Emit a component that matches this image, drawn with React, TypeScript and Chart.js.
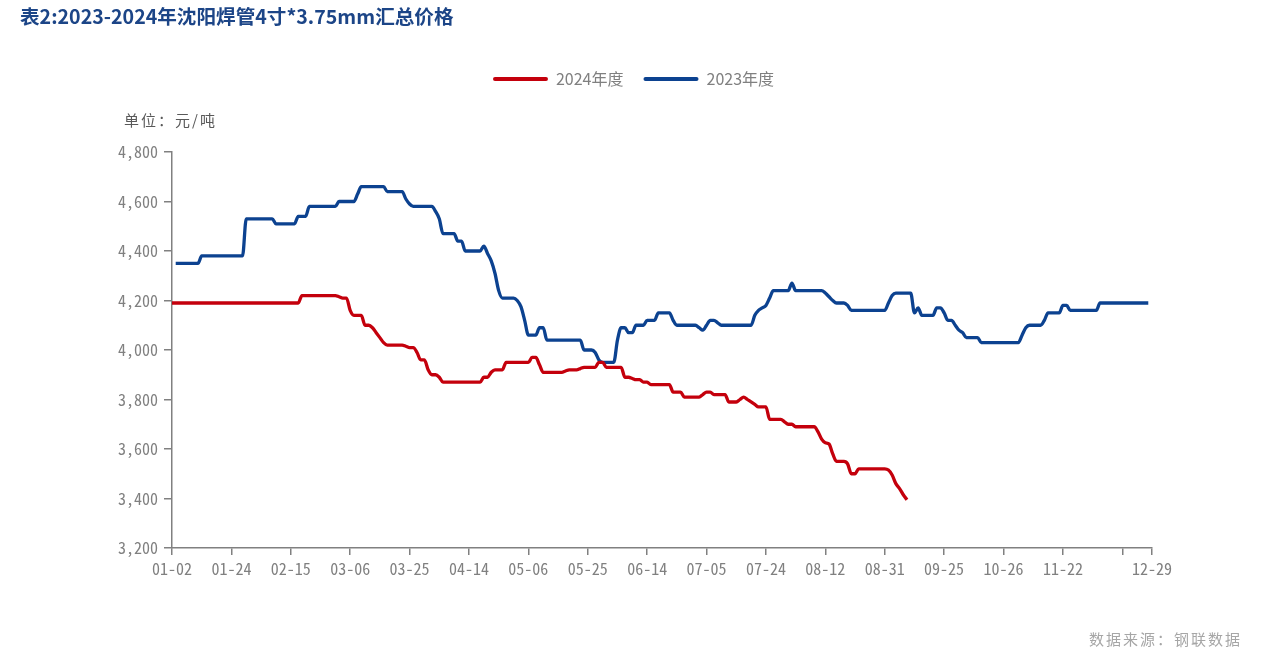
import React, { useEffect, useRef } from 'react';
import { Chart, registerables } from 'chart.js';

Chart.register(...registerables);

const W = 1267;
const H = 663;

const titleText = '表2:2023-2024年沈阳焊管4寸*3.75mm汇总价格';
const unitText = '单位：元/吨';
const sourceText = '数据来源：钢联数据';
const seriesNames = ['2024年度', '2023年度'];
const seriesColors = ['#c4000c', '#0c4290'];

// x positions (trading-day index) of the axis ticks and their labels
const tickPositions = [0, 16, 32, 48, 64, 80, 96, 112, 128, 144, 160, 176, 192, 208, 224, 240, 256, 264];
const tickLabels = ['01-02', '01-24', '02-15', '03-06', '03-25', '04-14', '05-06', '05-25', '06-14', '07-05', '07-24', '08-12', '08-31', '09-25', '10-26', '11-22', '', '12-29'];
const xMax = 264;

const yMin = 3200;
const yMax = 4800;
const yStep = 200;

// 2024 price (元/吨), one value per trading day
const series2024 = [
  4190, 4190, 4190, 4190, 4190, 4190, 4190, 4190, 4190, 4190,
  4190, 4190, 4190, 4190, 4190, 4190, 4190, 4190, 4190, 4190,
  4190, 4190, 4190, 4190, 4190, 4190, 4190, 4190, 4190, 4190,
  4190, 4190, 4190, 4190, 4190, 4220, 4220, 4220, 4220, 4220,
  4220, 4220, 4220, 4220, 4220, 4215, 4210, 4210, 4160, 4140,
  4140, 4140, 4100, 4100, 4090, 4070, 4050, 4030, 4020, 4020,
  4020, 4020, 4020, 4015, 4010, 4010, 3990, 3960, 3960, 3920,
  3900, 3900, 3890, 3870, 3870, 3870, 3870, 3870, 3870, 3870,
  3870, 3870, 3870, 3870, 3890, 3890, 3910, 3920, 3920, 3920,
  3950, 3950, 3950, 3950, 3950, 3950, 3950, 3970, 3970, 3940,
  3910, 3910, 3910, 3910, 3910, 3910, 3915, 3920, 3920, 3920,
  3925, 3930, 3930, 3930, 3930, 3950, 3950, 3930, 3930, 3930,
  3930, 3930, 3890, 3890, 3885, 3880, 3880, 3870, 3870, 3860,
  3860, 3860, 3860, 3860, 3860, 3830, 3830, 3830, 3810, 3810,
  3810, 3810, 3810, 3820, 3830, 3830, 3820, 3820, 3820, 3820,
  3790, 3790, 3790, 3800, 3810, 3800, 3790, 3780, 3770, 3770,
  3770, 3720, 3720, 3720, 3720, 3710, 3700, 3700, 3690, 3690,
  3690, 3690, 3690, 3690, 3670, 3640, 3625, 3620, 3580, 3550,
  3550, 3550, 3540, 3500, 3500, 3520, 3520, 3520, 3520, 3520,
  3520, 3520, 3520, 3515, 3495, 3460, 3440, 3415, 3395,
];

// 2023 price (元/吨), one value per trading day
const series2023 = [
  null, 4350, 4350, 4350, 4350, 4350, 4350, 4350, 4380, 4380,
  4380, 4380, 4380, 4380, 4380, 4380, 4380, 4380, 4380, 4380,
  4530, 4530, 4530, 4530, 4530, 4530, 4530, 4530, 4510, 4510,
  4510, 4510, 4510, 4510, 4540, 4540, 4540, 4580, 4580, 4580,
  4580, 4580, 4580, 4580, 4580, 4600, 4600, 4600, 4600, 4600,
  4630, 4660, 4660, 4660, 4660, 4660, 4660, 4660, 4640, 4640,
  4640, 4640, 4640, 4610, 4590, 4580, 4580, 4580, 4580, 4580,
  4580, 4560, 4530, 4470, 4470, 4470, 4470, 4440, 4440, 4400,
  4400, 4400, 4400, 4400, 4420, 4390, 4360, 4310, 4240, 4210,
  4210, 4210, 4210, 4200, 4175, 4120, 4060, 4060, 4060, 4090,
  4090, 4040, 4040, 4040, 4040, 4040, 4040, 4040, 4040, 4040,
  4040, 4000, 4000, 4000, 3990, 3960, 3950, 3950, 3950, 3950,
  4040, 4090, 4090, 4070, 4070, 4100, 4100, 4100, 4120, 4120,
  4120, 4150, 4150, 4150, 4150, 4120, 4100, 4100, 4100, 4100,
  4100, 4100, 4090, 4080, 4100, 4120, 4120, 4110, 4100, 4100,
  4100, 4100, 4100, 4100, 4100, 4100, 4100, 4140, 4160, 4170,
  4180, 4210, 4240, 4240, 4240, 4240, 4240, 4270, 4240, 4240,
  4240, 4240, 4240, 4240, 4240, 4240, 4230, 4215, 4200, 4190,
  4190, 4190, 4180, 4160, 4160, 4160, 4160, 4160, 4160, 4160,
  4160, 4160, 4160, 4190, 4220, 4230, 4230, 4230, 4230, 4230,
  4150, 4170, 4140, 4140, 4140, 4140, 4170, 4170, 4150, 4120,
  4120, 4100, 4080, 4070, 4050, 4050, 4050, 4050, 4030, 4030,
  4030, 4030, 4030, 4030, 4030, 4030, 4030, 4030, 4030, 4060,
  4090, 4100, 4100, 4100, 4100, 4120, 4150, 4150, 4150, 4150,
  4180, 4180, 4160, 4160, 4160, 4160, 4160, 4160, 4160, 4160,
  4190, 4190, 4190, 4190, 4190, 4190, 4190, 4190, 4190, 4190,
  4190, 4190, 4190, 4190,
];

const CJK = '"Noto Sans CJK SC", "Noto Sans", sans-serif';
const MONO = '"Noto Sans Mono CJK SC", "DejaVu Sans Mono", monospace';
const AXIS_GRAY = '#808080';

const toPoints = (arr: (number | null)[]) => arr.map((y, x) => ({ x, y }));

export default function App() {
  const ref = useRef<HTMLCanvasElement | null>(null);

  useEffect(() => {
    const canvas = ref.current;
    if (!canvas) return;

    const extraText = {
      id: 'extraText',
      afterDraw(chart: any) {
        const ctx = chart.ctx;
        ctx.save();
        try { (ctx as any).letterSpacing = '2px'; } catch (e) { /* ignore */ }
        ctx.textBaseline = 'middle';
        ctx.font = `15px ${CJK}`;
        ctx.fillStyle = '#595959';
        ctx.textAlign = 'left';
        ctx.fillText(unitText, 124, 120);
        ctx.fillStyle = '#a6a6a6';
        ctx.textAlign = 'right';
        ctx.fillText(sourceText, 1242, 639);
        ctx.restore();
      },
    };

    const chart = new Chart(canvas, {
      type: 'line',
      data: {
        datasets: [
          {
            label: seriesNames[0],
            data: toPoints(series2024) as any,
            borderColor: seriesColors[0],
            backgroundColor: seriesColors[0],
            borderWidth: 3.3,
            pointRadius: 0,
            cubicInterpolationMode: 'monotone',
            fill: false,
          },
          {
            label: seriesNames[1],
            data: toPoints(series2023) as any,
            borderColor: seriesColors[1],
            backgroundColor: seriesColors[1],
            borderWidth: 3.3,
            pointRadius: 0,
            cubicInterpolationMode: 'monotone',
            fill: false,
          },
        ],
      },
      options: {
        animation: false,
        responsive: false,
        maintainAspectRatio: false,
        layout: { padding: { left: 20, right: 20, top: 0, bottom: 0 } },
        plugins: {
          title: {
            display: true,
            text: titleText,
            align: 'start',
            color: '#1c4587',
            font: { family: CJK, size: 19.6, weight: 'bold', lineHeight: 1.2 },
            padding: { top: 4, bottom: 23 },
          },
          // empty spacer below the legend, leaving room for the unit label
          subtitle: {
            display: true,
            text: '',
            weight: 500,
            position: 'top',
            font: { size: 10, lineHeight: 1.2 },
            padding: { top: 0, bottom: 43 },
          },
          legend: {
            display: true,
            position: 'top',
            align: 'center',
            labels: {
              boxWidth: 55,
              boxHeight: 4,
              useBorderRadius: true,
              borderRadius: 2,
              padding: 20,
              color: AXIS_GRAY,
              font: { family: CJK, size: 16 },
              generateLabels: (c: any) =>
                (Chart.defaults.plugins.legend.labels.generateLabels as any)(c).map((it: any) => ({
                  ...it,
                  fillStyle: it.strokeStyle,
                  lineWidth: 0,
                })),
            },
          },
          tooltip: { enabled: false },
        },
        scales: {
          x: {
            type: 'linear',
            min: 0,
            max: xMax,
            afterBuildTicks: (s: any) => {
              s.ticks = tickPositions.map((v) => ({ value: v }));
            },
            afterFit: (s: any) => {
              s.height = 40;
              s.paddingRight = 115;
            },
            grid: { drawOnChartArea: false, drawTicks: true, tickLength: 7, color: AXIS_GRAY, lineWidth: 1.5 },
            border: { display: true, color: AXIS_GRAY, width: 1.5 },
            ticks: {
              autoSkip: false,
              maxRotation: 0,
              minRotation: 0,
              padding: 4,
              color: AXIS_GRAY,
              font: { family: MONO, size: 16 },
              callback: (v: any) => {
                const k = tickPositions.indexOf(Number(v));
                return k >= 0 ? tickLabels[k] : null;
              },
            },
          },
          y: {
            min: yMin,
            max: yMax,
            afterFit: (s: any) => {
              s.width = 152;
              s.paddingTop = 152;
              s.paddingBottom = 115;
            },
            grid: { drawOnChartArea: false, drawTicks: true, tickLength: 8, color: AXIS_GRAY, lineWidth: 1.5 },
            border: { display: true, color: AXIS_GRAY, width: 1.5 },
            ticks: {
              stepSize: yStep,
              padding: 6,
              color: AXIS_GRAY,
              font: { family: MONO, size: 16 },
              callback: (v: any) => Number(v).toLocaleString('en-US'),
            },
          },
        },
      } as any,
      plugins: [extraText],
    });

    return () => chart.destroy();
  }, []);

  return (
    <div style={{ position: 'fixed', left: 0, top: 0, width: W, height: H, background: '#ffffff' }}>
      <canvas ref={ref} width={W} height={H} style={{ display: 'block' }} />
    </div>
  );
}
